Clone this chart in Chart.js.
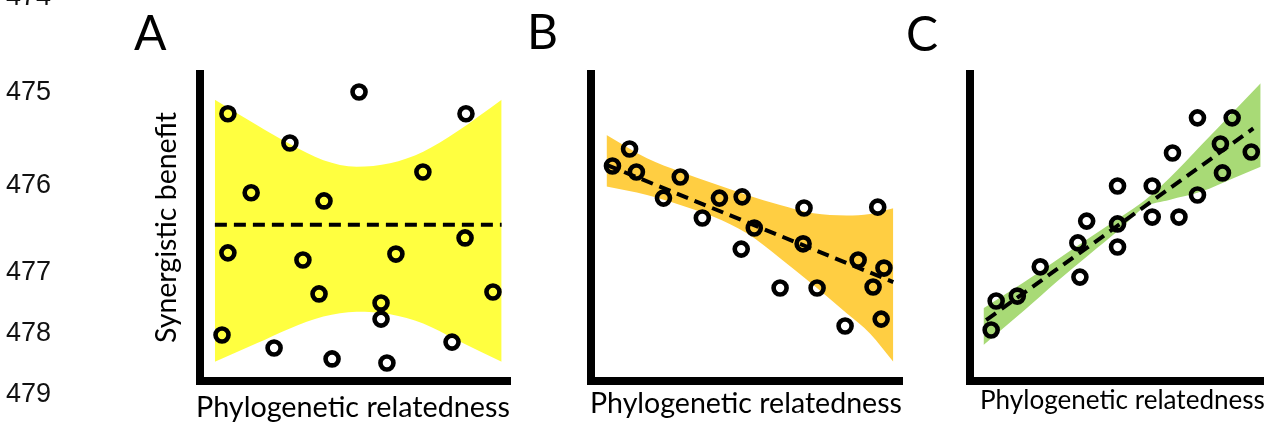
<!DOCTYPE html>
<html lang="en">
<head>
<meta charset="UTF-8">
<title>Synergistic benefit vs phylogenetic relatedness</title>
<script src="https://cdn.jsdelivr.net/npm/chart.js"></script>
<style>
  body { margin: 0; background: #fff; width: 1275px; height: 428px; overflow: hidden; position: relative; }
  canvas { position: absolute; left: 0; top: 0; }
  .txt { position: absolute; left: 0; top: 0; white-space: nowrap; color: #000; line-height: 1; z-index: 5; }
  .lineno { font-family: "Liberation Sans", Arial, sans-serif; font-size: 27px; color: #111; }
  .panel { font-family: Lato, "Open Sans", sans-serif; font-size: 48px; }
  .axis { font-family: Lato, "Open Sans", sans-serif; font-size: 26px; }
</style>
</head>
<body>
<canvas id="chartA" width="1275" height="428"></canvas>
<canvas id="chartB" width="1275" height="428"></canvas>
<canvas id="chartC" width="1275" height="428"></canvas>
<script>
// text
const lineNumbers = ["474", "475", "476", "477", "478", "479"];
const lineBaselines = [5, 100, 193, 280, 341, 402];
const panelLetters = ["A", "B", "C"];
const xTitle = "Phylogenetic relatedness";
const yTitle = "Synergistic benefit";

// panel A - no relationship (x 0-10, y 0-9.87)
const aPointX = [0.90, 5.13, 8.58, 2.90, 7.19, 1.65, 4.00, 0.90, 3.32, 6.32, 8.55, 3.84, 5.84, 5.84, 9.45, 0.71, 2.39, 4.26, 6.03, 8.13];
const aPointY = [8.59, 9.29, 8.59, 7.65, 6.72, 6.05, 5.79, 4.12, 3.89, 4.08, 4.60, 2.80, 2.51, 1.99, 2.86, 1.48, 1.06, 0.71, 0.58, 1.25];
const aBandX = [0.48, 1.83, 2.90, 3.98, 5.05, 6.13, 7.20, 8.28, 9.73];
const aBandUpper = [9.04, 8.23, 7.62, 7.10, 6.89, 7.00, 7.37, 8.01, 9.04];
const aBandLower = [0.62, 1.21, 1.69, 2.07, 2.23, 2.15, 1.85, 1.32, 0.62];
const aFitX = [0.48, 9.73];
const aFitY = [5.02, 5.02];

// panel B - negative relationship
const bPointX = [0.69, 1.24, 1.46, 2.87, 2.33, 4.13, 4.86, 3.58, 5.25, 4.83, 6.85, 6.82, 9.22, 6.08, 7.27, 8.59, 9.42, 9.07, 8.17, 9.33];
const bPointY = [6.91, 7.46, 6.72, 6.56, 5.88, 5.88, 5.92, 5.24, 4.92, 4.24, 5.56, 4.41, 5.59, 2.99, 2.99, 3.89, 3.63, 3.02, 1.77, 1.99];
const bBandX = [0.50, 1.80, 2.87, 3.94, 5.01, 6.08, 7.15, 8.22, 8.97, 9.72];
const bBandUpper = [7.91, 7.16, 6.73, 6.35, 5.98, 5.66, 5.39, 5.32, 5.37, 5.55];
const bBandLower = [6.25, 5.98, 5.66, 5.28, 4.75, 3.95, 3.09, 2.18, 1.53, 0.62];
const bFitX = [0.50, 9.72];
const bFitY = [6.95, 3.18];

// panel C - positive relationship
const cPointX = [0.72, 0.89, 1.61, 2.39, 3.74, 3.67, 3.97, 5.02, 5.02, 5.02, 6.20, 6.20, 7.11, 6.89, 7.74, 7.74, 8.52, 8.59, 8.92, 9.57];
const cPointY = [1.64, 2.57, 2.73, 3.67, 3.34, 4.44, 5.14, 6.27, 5.05, 4.31, 6.27, 5.27, 5.27, 7.33, 8.46, 5.98, 7.62, 6.69, 8.46, 7.36];
const cBandX = [0.46, 1.86, 2.95, 4.04, 5.14, 5.96, 6.78, 7.87, 8.96, 9.89];
const cBandUpper = [2.34, 3.19, 3.89, 4.59, 5.28, 5.82, 6.52, 7.59, 8.66, 9.57];
const cBandLower = [1.16, 2.28, 3.19, 4.05, 4.91, 5.60, 5.82, 6.09, 6.52, 6.89];
const cFitX = [0.55, 9.64];
const cFitY = [1.96, 8.12];

function xy(xs, ys) {
  return xs.map((x, i) => ({ x: x, y: ys[i] }));
}

function makePanel(id, color, px, py, bandX, upper, lower, fitX, fitY, pad) {
  const axis = {
    type: 'linear', min: 0, max: 10,
    ticks: { display: false },
    grid: { display: false, drawTicks: false },
    border: { display: true, color: '#000', width: 8 }
  };
  // lower order is drawn on top: band, then dashed fit, then circles
  return new Chart(document.getElementById(id), {
    type: 'line',
    data: {
      datasets: [
        { data: xy(bandX, upper), order: 3, fill: '+1', backgroundColor: color, borderWidth: 0, pointRadius: 0, cubicInterpolationMode: 'monotone', clip: false },
        { data: xy(bandX, lower), order: 2, fill: false, borderWidth: 0, pointRadius: 0, cubicInterpolationMode: 'monotone', clip: false },
        { data: xy(fitX, fitY), order: 1, fill: false, borderColor: '#000', borderWidth: 4, borderDash: [12, 7], pointRadius: 0, clip: false },
        { data: xy(px, py), order: 0, showLine: false, pointRadius: 6.5, pointBorderWidth: 4.6, pointBorderColor: '#000', pointBackgroundColor: 'rgba(0,0,0,0)', clip: false }
      ]
    },
    options: {
      responsive: false,
      animation: false,
      events: [],
      layout: { padding: pad },
      plugins: { legend: { display: false }, tooltip: { enabled: false } },
      scales: { x: axis, y: Object.assign({}, axis, { max: 9.87 }) }
    }
  });
}

makePanel('chartA', 'rgb(255,255,64)', aPointX, aPointY, aBandX, aBandUpper, aBandLower, aFitX, aFitY, { left: 200, right: 765, top: 74, bottom: 47 });
makePanel('chartB', 'rgb(255,206,66)', bPointX, bPointY, bBandX, bBandUpper, bBandLower, bFitX, bFitY, { left: 591, right: 373, top: 74, bottom: 47 });
makePanel('chartC', 'rgb(168,218,118)', cPointX, cPointY, cBandX, cBandUpper, cBandLower, cFitX, cFitY, { left: 970, right: 0, top: 74, bottom: 47 });

// labels as html text
const labels = [];
function addText(cls, text, left, baseline, width, rotate) {
  const el = document.createElement('div');
  el.className = 'txt ' + cls;
  el.textContent = text;
  document.body.appendChild(el);
  labels.push({ el: el, left: left, baseline: baseline, width: width, rotate: rotate });
}

function placeAll() {
  labels.forEach(function (t) {
    const el = t.el;
    el.style.transform = 'none';
    el.style.left = '0px';
    el.style.top = '0px';
    el.style.fontSize = '';
    if (t.width) {
      const w = el.getBoundingClientRect().width;
      const fs = parseFloat(getComputedStyle(el).fontSize);
      el.style.fontSize = (fs * t.width / w) + 'px';
    }
    let mark = el.querySelector('span');
    if (!mark) {
      mark = document.createElement('span');
      mark.style.cssText = 'display:inline-block;width:0;height:0;vertical-align:baseline';
      el.appendChild(mark);
    }
    const r = el.getBoundingClientRect();
    const b = mark.getBoundingClientRect().top - r.top;
    if (t.rotate) {
      // baseline becomes a vertical line at x = t.baseline, text starts at y = t.left and runs upward
      el.style.transformOrigin = '0 0';
      el.style.transform = 'rotate(-90deg)';
      el.style.left = (t.baseline - b) + 'px';
      el.style.top = t.left + 'px';
    } else {
      el.style.left = t.left + 'px';
      el.style.top = (t.baseline - b) + 'px';
    }
  });
}

lineNumbers.forEach(function (n, i) { addText('lineno', n, 6, lineBaselines[i]); });
addText('panel', panelLetters[0], 134, 49.5);
addText('panel', panelLetters[1], 527, 48.5);
addText('panel', panelLetters[2], 906, 51);
addText('axis', xTitle, 196, 417, 314);
addText('axis', xTitle, 590, 413, 312);
addText('axis', xTitle, 980, 409, 285);
addText('axis', yTitle, 343, 176, 231, true);

placeAll();
if (document.fonts && document.fonts.ready) document.fonts.ready.then(placeAll);
</script>
</body>
</html>
